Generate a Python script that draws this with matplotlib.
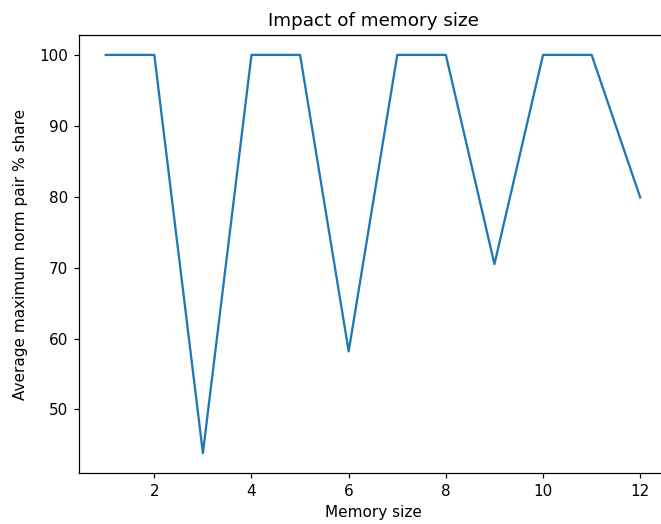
import matplotlib
matplotlib.use("Agg")
import matplotlib.pyplot as plt

memory_size = [1, 2, 3, 4, 5, 6, 7, 8, 9, 10, 11, 12]
avg_max_share = [100, 100, 43.85, 100, 100, 58.2, 100, 100, 70.5, 100, 100, 79.9]

DPI = 110
fig = plt.figure(figsize=(661 / DPI, 524 / DPI), dpi=DPI)
# axes runs slightly past the right edge of the canvas, so its right spine is cut off
ax = fig.add_axes([0.1195, 0.0973, 0.8895, 0.8359])
ax.spines["right"].set_visible(False)
ax.plot(memory_size, avg_max_share)
ax.set_title("Impact of memory size")
ax.set_xlabel("Memory size")
ax.set_ylabel("Average maximum norm pair % share", labelpad=7.5)
fig.savefig("out.png", dpi=DPI)
